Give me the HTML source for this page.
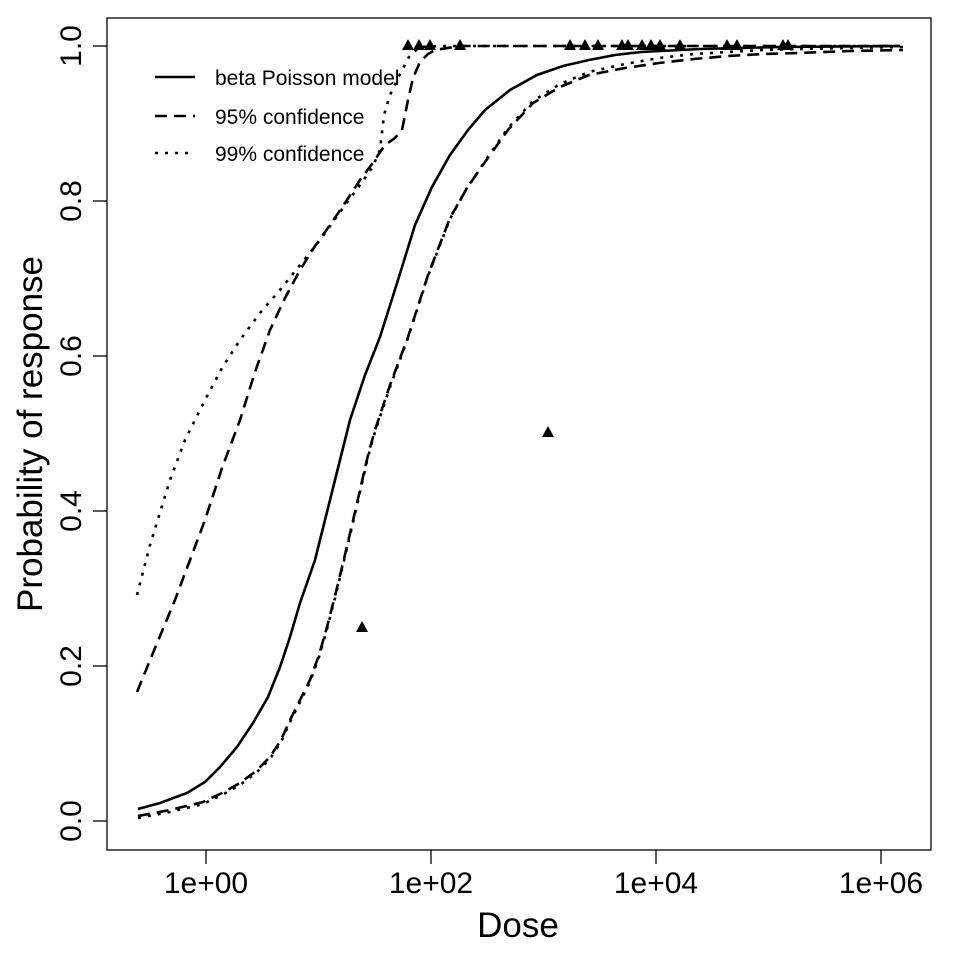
<!DOCTYPE html>
<html><head><style>body{margin:0;background:#fff}</style></head><body>
<svg width="960" height="960" xmlns="http://www.w3.org/2000/svg" font-family="Liberation Sans, Arial, sans-serif">
<rect x="107" y="18" width="824" height="832" fill="none" stroke="#000" stroke-width="1.3"/>
<g stroke="#000" stroke-width="1.3">
<line x1="107" y1="821" x2="93" y2="821"/><line x1="107" y1="666" x2="93" y2="666"/><line x1="107" y1="511" x2="93" y2="511"/><line x1="107" y1="356" x2="93" y2="356"/><line x1="107" y1="201" x2="93" y2="201"/><line x1="107" y1="46" x2="93" y2="46"/>
<line x1="206" y1="850" x2="206" y2="864"/><line x1="431" y1="850" x2="431" y2="864"/><line x1="656" y1="850" x2="656" y2="864"/><line x1="881" y1="850" x2="881" y2="864"/>
</g>
<g font-size="30" text-anchor="middle">
<text transform="translate(81,821) rotate(-90)">0.0</text>
<text transform="translate(81,666) rotate(-90)">0.2</text>
<text transform="translate(81,511) rotate(-90)">0.4</text>
<text transform="translate(81,356) rotate(-90)">0.6</text>
<text transform="translate(81,201) rotate(-90)">0.8</text>
<text transform="translate(81,46) rotate(-90)">1.0</text>
<text x="206" y="893">1e+00</text><text x="431" y="893">1e+02</text><text x="656" y="893">1e+04</text><text x="881" y="893">1e+06</text>
</g>
<text x="518" y="937" font-size="35" text-anchor="middle">Dose</text>
<text transform="translate(42,434) rotate(-90)" font-size="35" text-anchor="middle">Probability of response</text>
<g fill="none" stroke="#000" stroke-width="2.6">
<polyline points="138,809 160,803 187,793 205,782 220,767 237,747 253,723 268,697 280,667 290,637 300,603 315,560 325,520 335,480 350,420 365,375 380,337 398,280 415,225 432,187 450,155 468,130 485,110 510,90 537,75 563,66 589,60 615,55 641,52 700,49 780,47 900,46"/>
<polyline stroke-dasharray="12,7" points="138,816 170,810 203,802 222,793 240,783 256,771 270,757 281,740 290,720 300,700 310,680 319,655 327,627 335,596 343,563 352,525 360,490 368,455 375,430 390,385 408,337 428,275 450,218 467,188 485,162 508,130 533,103 560,87 589,75 625,68 659,63 694,59 728,56 763,54 798,53 850,51 903,50"/>
<polyline stroke-dasharray="12,7" points="137,692 155,648 175,600 190,560 205,520 222,468 240,420 255,372 270,330 285,298 300,270 315,246 330,225 345,203 360,180 372,164 385,145 395,138 402,130 408,100 413,78 420,62 428,54 435,50 460,46 600,46 900,46"/>
<polyline stroke-dasharray="3,7" points="137,595 150,545 170,480 185,440 205,400 222,368 240,340 260,313 280,290 300,265 320,240 340,212 360,185 372,168 380,150 384,115 390,95 398,78 410,55 420,47 440,46 600,46 900,46"/>
<polyline stroke-dasharray="3,7" points="138,818 170,812 203,804 222,795 240,785 256,773 270,759 281,742 290,722 300,702 310,682 319,657 327,629 335,598 343,565 352,527 360,492 368,457 375,432 390,387 408,338 428,276 450,219 467,188 485,161 508,128 533,101 560,84 589,72 625,64 659,58 694,54 728,52 763,50 798,49 850,48 903,47"/>
</g>
<g fill="#000">
<path d="M362,621 L368,632 L356,632 Z"/>
<path d="M548,426 L554,437 L542,437 Z"/>
<g transform="translate(0,45)">
<path d="M408,-6 L414,5 L402,5 Z"/><path d="M419,-6 L425,5 L413,5 Z"/><path d="M430,-6 L436,5 L424,5 Z"/><path d="M460,-6 L466,5 L454,5 Z"/>
<path d="M570,-6 L576,5 L564,5 Z"/><path d="M585,-6 L591,5 L579,5 Z"/><path d="M598,-6 L604,5 L592,5 Z"/><path d="M622,-6 L628,5 L616,5 Z"/>
<path d="M628,-6 L634,5 L622,5 Z"/><path d="M642,-6 L648,5 L636,5 Z"/><path d="M651,-6 L657,5 L645,5 Z"/><path d="M660,-6 L666,5 L654,5 Z"/>
<path d="M680,-6 L686,5 L674,5 Z"/><path d="M727,-6 L733,5 L721,5 Z"/><path d="M737,-6 L743,5 L731,5 Z"/><path d="M783,-6 L789,5 L777,5 Z"/><path d="M788,-6 L794,5 L782,5 Z"/>
</g>
</g>
<g stroke="#000" stroke-width="2.6">
<line x1="155" y1="77" x2="195" y2="77"/>
<line x1="155" y1="116" x2="195" y2="116" stroke-dasharray="12,7"/>
<line x1="155" y1="153" x2="195" y2="153" stroke-dasharray="3,7"/>
</g>
<g font-size="21">
<text x="215" y="85">beta Poisson model</text>
<text x="215" y="124">95% confidence</text>
<text x="215" y="161">99% confidence</text>
</g>
</svg>
</body></html>
